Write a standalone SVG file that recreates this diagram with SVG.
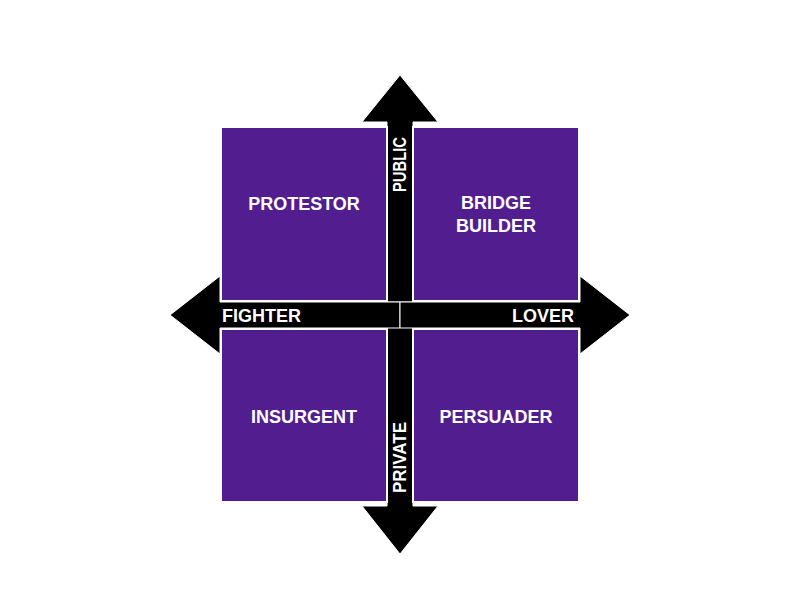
<svg xmlns="http://www.w3.org/2000/svg" width="800" height="600" viewBox="0 0 800 600">
<style>
.q{fill:#521d8f;stroke:#fff;stroke-width:2}
.ar{fill:#000;stroke:#fff;stroke-width:1}
.t{font-family:"Liberation Sans",Arial,sans-serif;font-weight:bold;font-size:18px;fill:#fff}
</style>
<rect width="800" height="600" fill="#fff"/>
<g id="connectors">
<polygon class="ar" points="387,302 387,122 362,122 400,75 438,122 413,122 413,302"/>
<polygon class="ar" points="387,327 387,506 362,506 400,554 438,506 413,506 413,327"/>
<polygon class="ar" points="400,302 220,302 220,276 170,315 220,354 220,328 400,328"/>
<polygon class="ar" points="400,302 580,302 580,276 630,315 580,354 580,328 400,328"/>
</g>
<g id="protestor"><rect class="q" x="221" y="127" width="166" height="174"/><text class="t" x="304" y="210" text-anchor="middle">PROTESTOR</text></g>
<g id="bridge-builder"><rect class="q" x="413" y="127" width="166" height="174"/><text class="t" x="496" y="209" text-anchor="middle">BRIDGE</text><text class="t" x="496" y="232" text-anchor="middle">BUILDER</text></g>
<g id="insurgent"><rect class="q" x="221" y="329" width="166" height="173"/><text class="t" x="304" y="423" text-anchor="middle">INSURGENT</text></g>
<g id="persuader"><rect class="q" x="413" y="329" width="166" height="173"/><text class="t" x="496" y="423" text-anchor="middle">PERSUADER</text></g>
<g id="labels">
<text class="t" x="222" y="322">FIGHTER</text>
<text class="t" x="574" y="322" text-anchor="end">LOVER</text>
<text class="t" transform="translate(406,164.5) rotate(-90)" text-anchor="middle" textLength="55" lengthAdjust="spacingAndGlyphs">PUBLIC</text>
<text class="t" transform="translate(406,457.5) rotate(-90)" text-anchor="middle" textLength="71" lengthAdjust="spacingAndGlyphs">PRIVATE</text>
</g>
</svg>
